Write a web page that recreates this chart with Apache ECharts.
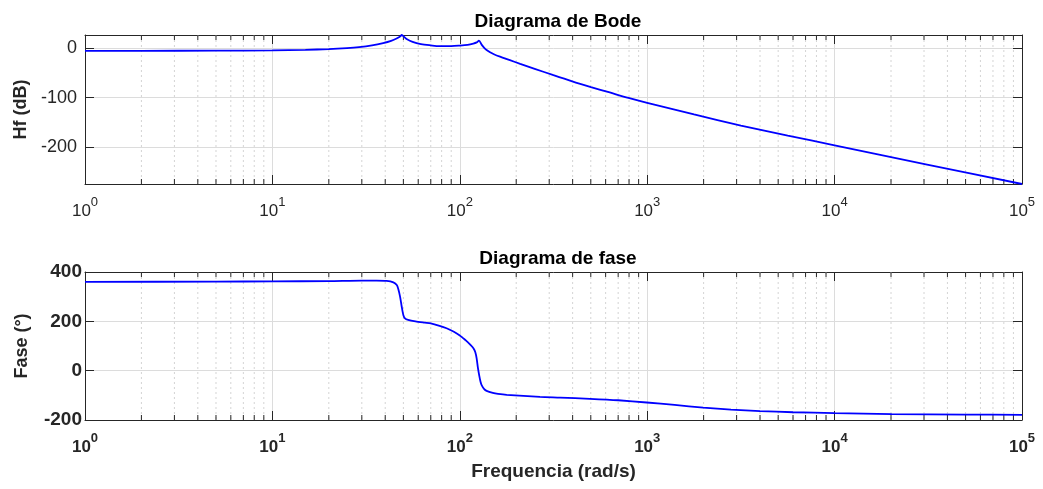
<!DOCTYPE html>
<html style="height: 100%">
<head>
<meta charset="utf-8">
<script src="https://cdn.jsdelivr.net/npm/echarts@6/dist/echarts.min.js"></script>
</head>
<body style="height: 100%; margin: 0; background: #fff">
<div id="bode" style="width: 1043px; height: 489px;"></div>
<script type="text/javascript">
// magnitude (dB)
var magFreq = [1, 2, 5, 10, 15, 20, 25, 29, 34, 39, 43, 46, 48, 49, 50.5, 52, 56, 62, 70, 78, 90, 100, 110, 118, 123, 126.5,
    131, 135, 139, 145, 152, 164, 185, 210, 251, 316, 398, 501, 631, 794, 1000, 1778, 3162, 5623, 10000, 31623, 100000];
var magDb = [-5, -5, -4.8, -4.3, -3, -1.5, 0.5, 2.5, 6, 10.5, 15, 20, 24, 27, 23, 19, 13, 8.5, 6, 4.5, 4.5, 5.5, 7, 9.5, 12, 15.5,
    7, 1, -3.5, -8, -12, -17, -24, -31.5, -41.5, -54.5, -67, -78.5, -89.5, -100.5, -110.5, -134, -156.5, -177, -196.5, -236, -275];

// phase (deg)
var phFreq = [1, 5, 10, 20, 30, 36, 40.7, 44.2, 46.1, 47, 48, 49, 50, 51, 53, 58, 65, 70, 78, 85, 93, 100, 104, 108, 114, 118, 121, 123, 125, 127,
    129, 131, 135, 139, 150, 160, 178, 268, 343, 495, 700, 994, 1400, 1991, 2800, 4000, 6000, 10000, 20180, 50000, 100000];
var phDeg = [360, 361, 362, 363, 365, 365, 364, 358, 347, 330, 300, 259, 225, 212, 206, 200, 195, 192, 182, 172, 158, 143, 132, 122, 105, 92, 75, 50, 10, -20,
    -45, -60, -75, -82, -90, -94, -98, -106, -109, -114, -120, -129, -139, -150, -158, -164, -168.5, -172, -176, -178, -179];

var magTicks = [-200, -100, 0];
var phTicks = [-200, 0, 200, 400];
// minor log grid positions
var minorX = [2, 3, 4, 5, 6, 7, 8, 9, 20, 30, 40, 50, 60, 70, 80, 90, 200, 300, 400, 500, 600, 700, 800, 900,
    2000, 3000, 4000, 5000, 6000, 7000, 8000, 9000, 20000, 30000, 40000, 50000, 60000, 70000, 80000, 90000];

function zip(a, b) {
    var out = [];
    for (var i = 0; i < a.length; i++) out.push([a[i], b[i]]);
    return out;
}

var FONT = '"Liberation Sans", Arial, Helvetica, sans-serif';
var AX = '#262626';

function minorGrid(params, api) {
    var cs = params.coordSys;
    var x = api.coord([api.value(0), api.value(1)])[0];
    var top = cs.y, bot = cs.y + cs.height;
    return {
        type: 'group',
        children: [
            { type: 'line', shape: { x1: x, y1: top, x2: x, y2: bot },
              style: { stroke: '#d4d4d4', lineWidth: 1, lineDash: [2, 3] } },
            { type: 'line', shape: { x1: x, y1: top, x2: x, y2: top + 5 },
              style: { stroke: AX, lineWidth: 1 } },
            { type: 'line', shape: { x1: x, y1: bot, x2: x, y2: bot - 5 },
              style: { stroke: AX, lineWidth: 1 } }
        ]
    };
}

function xLabel(bold) {
    return {
        show: true,
        margin: 12,
        formatter: function (v) {
            return '{b|10}{s|' + Math.round(Math.log10(v)) + '}';
        },
        rich: {
            b: { fontSize: 17, fontFamily: FONT, color: AX, fontWeight: bold ? 'bold' : 'normal', verticalAlign: 'bottom', lineHeight: 24 },
            s: { fontSize: 13, fontFamily: FONT, color: AX, fontWeight: bold ? 'bold' : 'normal', verticalAlign: 'top', lineHeight: 14 }
        }
    };
}

function logAxis(grid, pos, labels, bold) {
    return {
        type: 'log', logBase: 10, gridIndex: grid, position: pos,
        min: 1, max: 100000, splitNumber: 5,
        axisLine: { show: true, onZero: false, lineStyle: { color: AX, width: 1 } },
        axisTick: { show: true, inside: true, length: 9, lineStyle: { color: AX } },
        axisLabel: labels ? xLabel(bold) : { show: false },
        splitLine: { show: pos === 'bottom', lineStyle: { color: '#dcdcdc', width: 1 } }
    };
}

function valAxis(grid, pos, min, max, split, ticks, bold, name, gap, margin) {
    return {
        type: 'value', gridIndex: grid, position: pos,
        min: min, max: max, splitNumber: split,
        name: name || '', nameLocation: 'middle', nameGap: gap || 0,
        nameTextStyle: { fontFamily: FONT, fontWeight: 'bold', fontSize: 18, color: AX },
        axisLine: { show: true, onZero: false, lineStyle: { color: AX, width: 1 } },
        axisTick: { show: true, inside: true, length: 9, lineStyle: { color: AX } },
        axisLabel: pos === 'left' ? {
            show: true, margin: margin, showMinLabel: ticks.indexOf(min) >= 0, showMaxLabel: ticks.indexOf(max) >= 0,
            fontFamily: FONT, fontSize: bold ? 19 : 18, fontWeight: bold ? 'bold' : 'normal', color: AX
        } : { show: false },
        splitLine: { show: pos === 'left', lineStyle: { color: '#dcdcdc', width: 1 } }
    };
}

var dom = document.getElementById('bode');
var myChart = echarts.init(dom, null, { renderer: 'canvas' });

var option = {
    animation: false,
    backgroundColor: '#ffffff',
    title: [
        { text: 'Diagrama de Bode', left: 553, top: 7, textAlign: 'center',
          textStyle: { fontFamily: FONT, fontWeight: 'bold', fontSize: 19, color: '#000' } },
        { text: 'Diagrama de fase', left: 553, top: 244, textAlign: 'center',
          textStyle: { fontFamily: FONT, fontWeight: 'bold', fontSize: 19, color: '#000' } }
    ],
    grid: [
        { left: 85, right: 21, top: 35, height: 149 },
        { left: 85, right: 21, top: 272, height: 148 }
    ],
    xAxis: [
        logAxis(0, 'bottom', true, false),
        logAxis(0, 'top', false, false),
        Object.assign(logAxis(1, 'bottom', true, true), {
            name: 'Frequencia (rad/s)', nameLocation: 'middle', nameGap: 42,
            nameTextStyle: { fontFamily: FONT, fontWeight: 'bold', fontSize: 19, color: AX }
        }),
        logAxis(1, 'top', false, true)
    ],
    yAxis: [
        valAxis(0, 'left', -275, 27, 3, magTicks, false, 'Hf (dB)', 51, 8),
        valAxis(0, 'right', -275, 27, 3, magTicks, false),
        valAxis(1, 'left', -200, 400, 3, phTicks, true, 'Fase (°)', 54, 3),
        valAxis(1, 'right', -200, 400, 3, phTicks, true)
    ],
    series: [
        { type: 'custom', xAxisIndex: 0, yAxisIndex: 0, silent: true, z: 1,
          renderItem: minorGrid, data: zip(minorX, minorX.map(function () { return 0; })) },
        { type: 'custom', xAxisIndex: 2, yAxisIndex: 2, silent: true, z: 1,
          renderItem: minorGrid, data: zip(minorX, minorX.map(function () { return 0; })) },
        { name: 'Hf', type: 'line', xAxisIndex: 0, yAxisIndex: 0, data: zip(magFreq, magDb),
          showSymbol: false, smooth: 0.3, z: 5, clip: false,
          lineStyle: { color: '#0000ff', width: 1.8 } },
        { name: 'Fase', type: 'line', xAxisIndex: 2, yAxisIndex: 2, data: zip(phFreq, phDeg),
          showSymbol: false, smooth: 0.25, z: 5, clip: false,
          lineStyle: { color: '#0000ff', width: 1.8 } }
    ]
};

if (option && typeof option === 'object') {
    myChart.setOption(option, true);
}
</script>
</body>
</html>
